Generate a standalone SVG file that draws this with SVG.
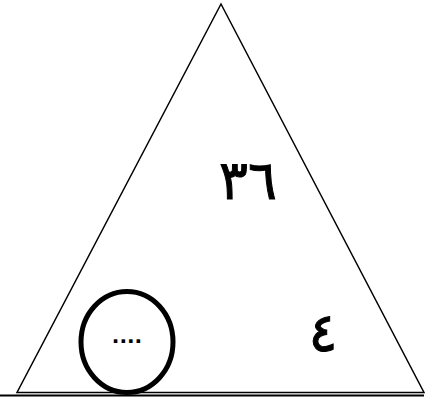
<svg xmlns="http://www.w3.org/2000/svg" width="433" height="398" viewBox="0 0 433 398">
<style>
.t{font-family:"DejaVu Sans","Noto Sans",sans-serif;fill:#000}
</style>
<rect width="433" height="398" fill="#fff"/>
<g id="triangle"><polygon points="221,4 17,392.5 424,392.5" fill="none" stroke="#000" stroke-width="1.5"/></g>
<g id="baseline"><line x1="0" y1="395.5" x2="424" y2="395.5" stroke="#000" stroke-width="2"/></g>
<g id="circle"><ellipse cx="127" cy="342" rx="46" ry="50.5" fill="none" stroke="#000" stroke-width="5"/>
<text class="t" x="127" y="343" font-size="20" font-weight="bold" text-anchor="middle">....</text></g>
<g id="n36"><text class="t" x="248" y="199" font-size="54" text-anchor="middle" stroke="#000" stroke-width="1">٣٦</text></g>
<g id="n4"><text class="t" x="323" y="351" font-size="54" text-anchor="middle" stroke="#000" stroke-width="1">٤</text></g>
</svg>
